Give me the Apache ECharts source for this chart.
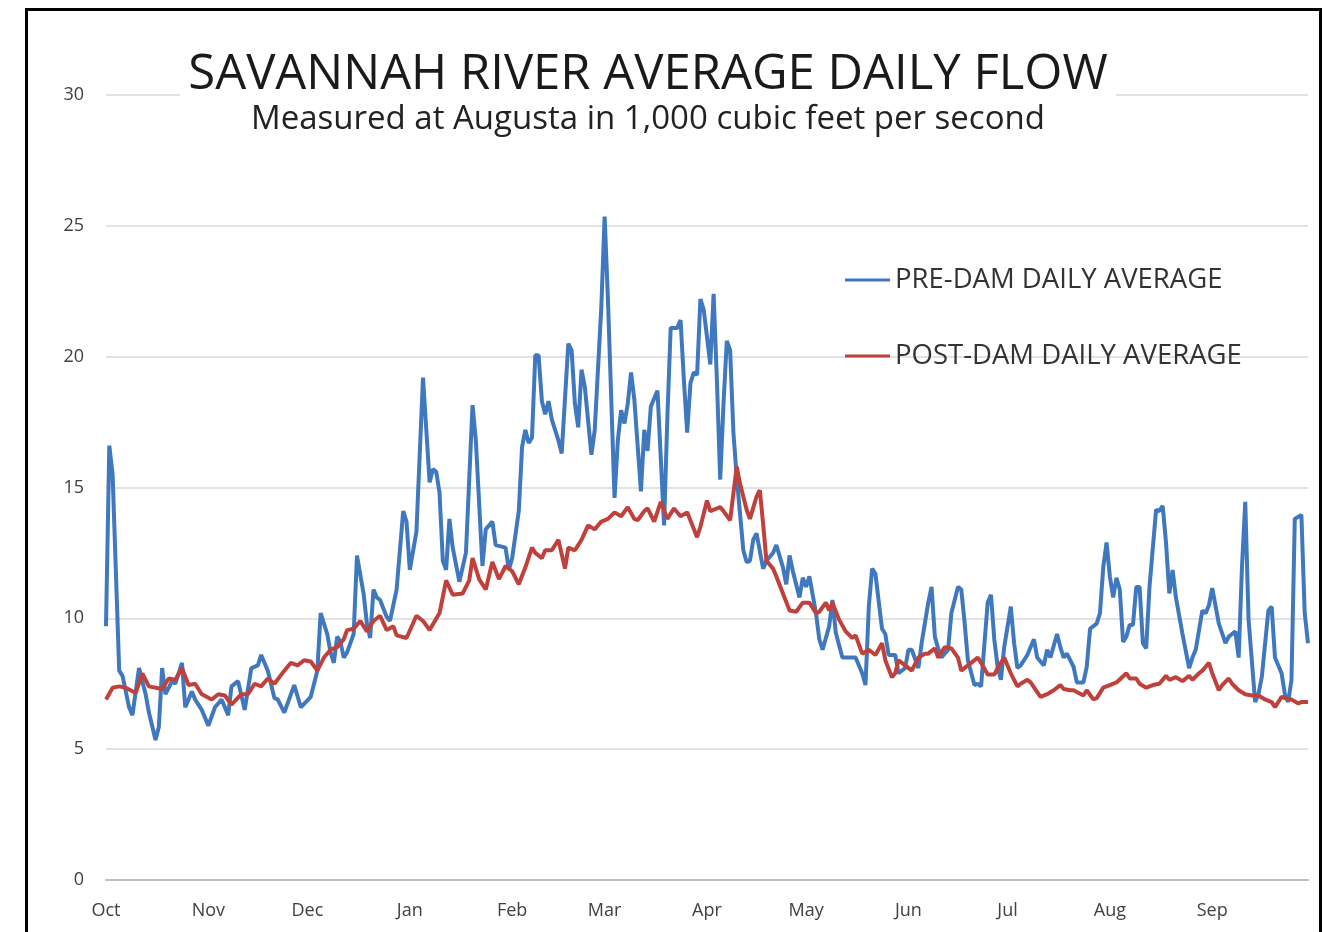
<!DOCTYPE html>
<html>
<head>
<meta charset="utf-8">
<script src="https://cdn.jsdelivr.net/npm/echarts@6/dist/echarts.min.js"></script>
<style>
html,body{margin:0;padding:0;background:#fff;}
#chart{width:1323px;height:932px;}
</style>
</head>
<body>
<div id="chart"></div>
<script>
// Month tick labels and the day-of-water-year where each month starts
const monthLabels = ['Oct','Nov','Dec','Jan','Feb','Mar','Apr','May','Jun','Jul','Aug','Sep'];
const monthStartDays = [0,31,61,92,123,151,182,212,243,273,304,335];
const yTicks = [0,5,10,15,20,25,30];

// [day of water year, flow in 1,000 cfs]
const preDam = [
[0,9.7],[1,16.6],[2,15.5],[4,8.0],[5,7.8],[7,6.6],[8,6.3],[10,8.1],[12,7.1],[13,6.4],[15,5.35],[16,5.85],[17,8.1],[18,7.1],[20,7.6],[21,7.5],[23,8.3],[24,6.6],[26,7.2],[27,6.9],[29,6.5],[31,5.9],[33,6.6],[35,6.9],[37,6.3],[38,7.4],[40,7.6],[42,6.5],[44,8.1],[46,8.2],[47,8.6],[49,8.0],[51,6.95],[52,6.9],[54,6.4],[57,7.45],[59,6.6],[62,7.0],[64,8.0],[65,10.2],[67,9.4],[68,8.7],[69,8.3],[70,9.3],[71,9.1],[72,8.5],[73,8.7],[75,9.4],[76,12.4],[78,10.95],[79,9.8],[80,9.25],[81,11.1],[82,10.8],[83,10.7],[85,10.05],[86,9.9],[88,11.1],[90,14.1],[91,13.7],[92,11.85],[94,13.3],[96,19.2],[98,15.2],[99,15.7],[100,15.6],[101,14.8],[102,12.2],[103,11.85],[104,13.8],[105,12.7],[107,11.4],[109,12.5],[111,18.15],[112,16.8],[114,12.0],[115,13.4],[117,13.7],[118,12.8],[121,12.7],[122,11.85],[123,12.3],[125,14.1],[126,16.55],[127,17.2],[128,16.7],[129,16.9],[130,20.05],[131,20.05],[132,18.3],[133,17.8],[134,18.3],[135,17.6],[137,16.8],[138,16.3],[140,20.5],[141,20.25],[142,18.2],[143,17.3],[144,19.5],[145,18.85],[147,16.25],[148,17.2],[150,21.9],[151,25.35],[152,22.2],[154,14.6],[155,16.8],[156,17.95],[157,17.45],[158,18.2],[159,19.4],[160,18.35],[162,14.85],[163,17.2],[164,16.4],[165,18.1],[167,18.7],[169,13.55],[170,17.7],[171,21.1],[173,21.1],[174,21.4],[175,19.1],[176,17.1],[177,19.0],[178,19.4],[179,19.3],[180,22.2],[181,21.8],[183,19.7],[184,22.4],[185,19.1],[186,15.3],[187,18.2],[188,20.6],[189,20.25],[190,17.1],[191,15.4],[193,12.6],[194,12.15],[195,12.2],[196,13.0],[197,13.25],[199,11.9],[200,12.2],[202,12.5],[203,12.8],[205,11.95],[206,11.3],[207,12.4],[208,11.8],[210,10.8],[211,11.55],[212,11.2],[213,11.6],[215,10.2],[216,9.2],[217,8.8],[219,9.7],[220,10.7],[221,9.45],[223,8.5],[225,8.5],[227,8.5],[229,7.9],[230,7.45],[231,10.45],[232,11.9],[233,11.7],[235,9.6],[236,9.4],[237,8.6],[239,8.6],[240,7.9],[242,8.1],[243,8.8],[244,8.8],[246,8.1],[247,9.05],[249,10.6],[250,11.2],[251,9.3],[252,8.85],[253,8.5],[255,8.8],[256,10.2],[258,11.2],[259,11.1],[260,9.85],[261,8.4],[263,7.45],[264,7.5],[265,7.4],[267,10.6],[268,10.9],[269,9.2],[270,8.15],[271,7.65],[272,8.9],[274,10.45],[275,9.05],[276,8.1],[277,8.2],[279,8.6],[281,9.2],[282,8.5],[284,8.2],[285,8.8],[286,8.5],[288,9.4],[289,8.9],[290,8.5],[291,8.65],[293,8.15],[294,7.55],[296,7.55],[297,8.15],[298,9.6],[300,9.8],[301,10.2],[302,11.95],[303,12.9],[304,11.6],[305,10.8],[306,11.55],[307,11.1],[308,9.1],[309,9.3],[310,9.75],[311,9.75],[312,11.2],[313,11.2],[314,9.05],[315,8.85],[316,11.2],[318,14.15],[319,14.1],[320,14.3],[321,12.9],[322,10.95],[323,11.85],[324,10.8],[326,9.4],[328,8.1],[329,8.5],[330,8.8],[332,10.3],[333,10.2],[334,10.5],[335,11.15],[337,9.8],[339,9.05],[340,9.3],[341,9.4],[342,9.5],[343,8.5],[344,11.95],[345,14.45],[346,9.95],[348,6.8],[349,7.1],[350,7.75],[352,10.3],[353,10.45],[354,8.5],[356,7.9],[357,7.1],[358,6.8],[359,7.65],[360,13.8],[362,13.95],[363,10.2],[364,9.05]
];

const postDam = [
[0,6.9],[2,7.35],[4,7.4],[6,7.35],[9,7.15],[11,7.9],[13,7.4],[17,7.3],[19,7.7],[21,7.65],[23,8.1],[25,7.45],[27,7.5],[29,7.1],[32,6.9],[34,7.1],[36,7.05],[38,6.7],[41,7.1],[43,7.1],[45,7.5],[47,7.4],[49,7.7],[51,7.5],[54,8.0],[56,8.3],[58,8.2],[60,8.4],[62,8.35],[64,8.0],[66,8.5],[68,8.8],[70,8.9],[72,9.2],[73,9.55],[75,9.6],[77,9.9],[79,9.5],[81,9.9],[83,10.1],[85,9.55],[87,9.7],[88,9.35],[91,9.25],[94,10.1],[96,9.9],[98,9.55],[101,10.2],[103,11.45],[105,10.9],[108,10.95],[110,11.45],[111,12.3],[113,11.5],[115,11.1],[117,12.15],[119,11.5],[121,12.0],[123,11.8],[125,11.3],[127,11.95],[129,12.7],[130,12.5],[132,12.3],[133,12.6],[135,12.6],[137,13.0],[139,11.9],[140,12.7],[142,12.6],[144,13.0],[146,13.55],[148,13.4],[150,13.7],[152,13.8],[154,14.05],[156,13.9],[158,14.25],[160,13.8],[161,13.75],[163,14.1],[164,14.2],[166,13.7],[168,14.45],[170,13.8],[172,14.2],[174,13.9],[176,14.05],[179,13.1],[180,13.5],[182,14.5],[183,14.1],[186,14.25],[187,14.1],[189,13.75],[191,15.8],[192,15.15],[194,14.15],[195,13.8],[197,14.65],[198,14.9],[199,13.6],[200,12.2],[202,11.9],[203,11.6],[205,10.95],[207,10.3],[209,10.25],[211,10.6],[213,10.6],[215,10.2],[216,10.25],[218,10.6],[219,10.3],[220,10.6],[222,9.95],[224,9.5],[226,9.25],[227,9.35],[229,8.65],[231,8.8],[233,8.6],[235,9.05],[236,8.4],[238,7.75],[239,7.9],[240,8.4],[242,8.2],[244,8.0],[246,8.5],[248,8.65],[249,8.65],[251,8.85],[252,8.5],[254,8.9],[256,8.85],[258,8.5],[259,8.0],[261,8.2],[264,8.5],[265,8.3],[267,7.85],[269,7.85],[270,8.1],[272,8.5],[274,7.9],[276,7.4],[277,7.5],[279,7.65],[280,7.55],[283,7.0],[285,7.1],[287,7.25],[289,7.45],[290,7.3],[292,7.25],[293,7.25],[296,7.05],[297,7.25],[299,6.9],[300,6.95],[302,7.35],[304,7.45],[306,7.55],[309,7.9],[310,7.7],[312,7.7],[313,7.5],[315,7.35],[317,7.45],[319,7.5],[321,7.8],[322,7.65],[324,7.75],[326,7.6],[328,7.8],[329,7.65],[331,7.9],[332,8.0],[334,8.3],[335,7.9],[337,7.25],[338,7.45],[340,7.7],[341,7.5],[343,7.25],[345,7.1],[347,7.05],[349,7.05],[351,6.9],[353,6.8],[354,6.6],[356,7.0],[357,6.95],[359,6.9],[361,6.75],[362,6.8],[364,6.8]
];

const chart = echarts.init(document.getElementById('chart'), null, {renderer: 'canvas'});
const FONT = 'Open Sans';

chart.setOption({
  animation: false,
  backgroundColor: '#fff',
  graphic: [{
    type: 'rect',
    z: 100,
    shape: {x: 26.5, y: 9.5, width: 1294, height: 1000},
    style: {fill: 'none', stroke: '#000', lineWidth: 3}
  }],
  title: [{
    text: 'SAVANNAH RIVER AVERAGE DAILY FLOW',
    left: 640,
    textAlign: 'center',
    top: 48,
    padding: [3, 8, 3, 8],
    backgroundColor: '#fff',
    textStyle: {fontFamily: FONT, fontSize: 49, fontWeight: 'normal', color: '#1a1a1a'}
  }, {
    text: 'Measured at Augusta in 1,000 cubic feet per second',
    left: 648,
    textAlign: 'center',
    top: 103,
    padding: 0,
    textStyle: {fontFamily: FONT, fontSize: 33, fontWeight: 'normal', color: '#222'}
  }],
  legend: {
    orient: 'vertical',
    left: 845,
    top: 266,
    padding: 0,
    icon: 'rect',
    itemWidth: 45,
    itemHeight: 3,
    itemGap: 48,
    textStyle: {fontFamily: FONT, fontSize: 27.5, color: '#333'},
    data: ['PRE-DAM DAILY AVERAGE', 'POST-DAM DAILY AVERAGE']
  },
  grid: {left: 106, right: 15, top: 95, bottom: 52, containLabel: false},
  xAxis: {
    type: 'value',
    min: 0,
    max: 364,
    splitLine: {show: false},
    axisTick: {show: false},
    axisLine: {show: true, lineStyle: {color: '#bfbfbf', width: 2}},
    axisLabel: {
      customValues: monthStartDays,
      formatter: function (v) {
        const i = monthStartDays.indexOf(Math.round(v));
        return i >= 0 ? monthLabels[i] : '';
      },
      margin: 22,
      fontFamily: FONT,
      fontSize: 18,
      color: '#404040'
    }
  },
  yAxis: {
    type: 'value',
    min: yTicks[0],
    max: yTicks[yTicks.length - 1],
    interval: 5,
    axisLine: {show: false},
    axisTick: {show: false},
    splitLine: {lineStyle: {color: '#e3e3e3', width: 2}},
    axisLabel: {margin: 22, fontFamily: FONT, fontSize: 18, color: '#404040'}
  },
  series: [{
    name: 'PRE-DAM DAILY AVERAGE',
    type: 'line',
    data: preDam,
    showSymbol: false,
    symbol: 'none',
    lineStyle: {color: '#3f78bf', width: 4},
    itemStyle: {color: '#3f78bf'},
    z: 3
  }, {
    name: 'POST-DAM DAILY AVERAGE',
    type: 'line',
    data: postDam,
    showSymbol: false,
    symbol: 'none',
    lineStyle: {color: '#c0403c', width: 4},
    itemStyle: {color: '#c0403c'},
    z: 4
  }]
});
</script>
</body>
</html>
